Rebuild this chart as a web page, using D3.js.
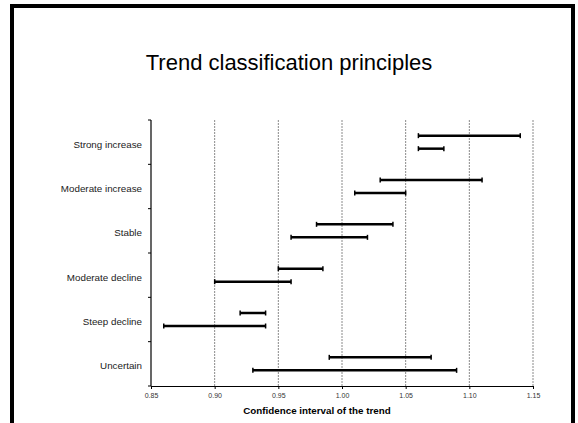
<!DOCTYPE html>
<html>
<head>
<meta charset="utf-8">
<script src="https://cdn.jsdelivr.net/npm/d3@7"></script>
<style>
  body { margin: 0; background: #fff; }
  svg { display: block; font-family: Arial, "Liberation Sans", sans-serif; }
</style>
</head>
<body>
<svg id="chart" width="578" height="423"></svg>
<script>
// categories, top to bottom
var categories = ["Strong increase", "Moderate increase", "Stable", "Moderate decline", "Steep decline", "Uncertain"];
// two confidence intervals per category (upper bar, lower bar)
var lowA  = [1.06, 1.03, 0.98, 0.95, 0.92, 0.99];
var highA = [1.14, 1.11, 1.04, 0.985, 0.94, 1.07];
var lowB  = [1.06, 1.01, 0.96, 0.90, 0.86, 0.93];
var highB = [1.08, 1.05, 1.02, 0.96, 0.94, 1.09];
var xTicks = [0.85, 0.90, 0.95, 1.00, 1.05, 1.10, 1.15];

var svg = d3.select("#chart");

// slide frame
svg.append("rect")
    .attr("x", 12).attr("y", 6)
    .attr("width", 561).attr("height", 440)
    .attr("fill", "none")
    .attr("stroke", "#000")
    .attr("stroke-width", 4);

svg.append("text")
    .attr("x", 289).attr("y", 70)
    .attr("text-anchor", "middle")
    .attr("font-size", 22)
    .text("Trend classification principles");

var plotLeft = 151, plotRight = 533, plotTop = 120, plotBottom = 386;

var x = d3.scaleLinear().domain([0.85, 1.15]).range([plotLeft, plotRight]);
var y = d3.scaleBand().domain(categories).range([plotTop, plotBottom]);

// dotted grid lines
svg.append("g")
    .selectAll("line")
    .data(xTicks.slice(1))
    .enter().append("line")
    .attr("x1", function(d) { return x(d); })
    .attr("x2", function(d) { return x(d); })
    .attr("y1", plotTop).attr("y2", plotBottom)
    .attr("stroke", "#8a8a8a")
    .attr("stroke-width", 1)
    .attr("stroke-dasharray", "2,1");

// x axis
var xAxis = svg.append("g")
    .attr("transform", "translate(0," + plotBottom + ")")
    .call(d3.axisBottom(x).tickValues(xTicks).tickFormat(d3.format(".2f")).tickSize(3).tickSizeOuter(0));
xAxis.select(".domain").attr("stroke", "#000").attr("stroke-width", 1.2);
xAxis.selectAll(".tick line").attr("stroke", "#000");
xAxis.selectAll("text")
    .attr("font-family", "Arial, 'Liberation Sans', sans-serif")
    .attr("font-size", 7)
    .attr("fill", "#333")
    .attr("dy", "0.9em");

svg.append("text")
    .attr("x", 317).attr("y", 414)
    .attr("text-anchor", "middle")
    .attr("font-size", 9.8)
    .attr("font-weight", "bold")
    .text("Confidence interval of the trend");

// y axis: ticks on the band boundaries
var yBounds = categories.map(function(c) { return y(c); }).concat([plotBottom]);
svg.append("line")
    .attr("x1", plotLeft).attr("x2", plotLeft)
    .attr("y1", plotTop).attr("y2", plotBottom)
    .attr("stroke", "#000").attr("stroke-width", 1.2);
svg.append("g")
    .selectAll("line")
    .data(yBounds)
    .enter().append("line")
    .attr("x1", plotLeft - 3).attr("x2", plotLeft)
    .attr("y1", function(d) { return d; })
    .attr("y2", function(d) { return d; })
    .attr("stroke", "#000");

svg.append("g")
    .selectAll("text")
    .data(categories)
    .enter().append("text")
    .attr("x", 142)
    .attr("y", function(d) { return y(d) + y.bandwidth() / 2 + 2; })
    .attr("dy", "0.35em")
    .attr("text-anchor", "end")
    .attr("font-size", 9.8)
    .attr("fill", "#222")
    .text(function(d) { return d; });

// interval bars
function drawBars(lows, highs, offset) {
  var g = svg.append("g");
  categories.forEach(function(c, i) {
    var yy = y(c) + y.bandwidth() / 2 + offset;
    g.append("line")
        .attr("x1", x(lows[i])).attr("x2", x(highs[i]))
        .attr("y1", yy).attr("y2", yy)
        .attr("stroke", "#000").attr("stroke-width", 2.5);
    [lows[i], highs[i]].forEach(function(v) {
      g.append("line")
          .attr("x1", x(v)).attr("x2", x(v))
          .attr("y1", yy - 2.5).attr("y2", yy + 2.5)
          .attr("stroke", "#000").attr("stroke-width", 1.5);
    });
  });
}
drawBars(lowA, highA, -6.5);
drawBars(lowB, highB, 6.5);
</script>
</body>
</html>
